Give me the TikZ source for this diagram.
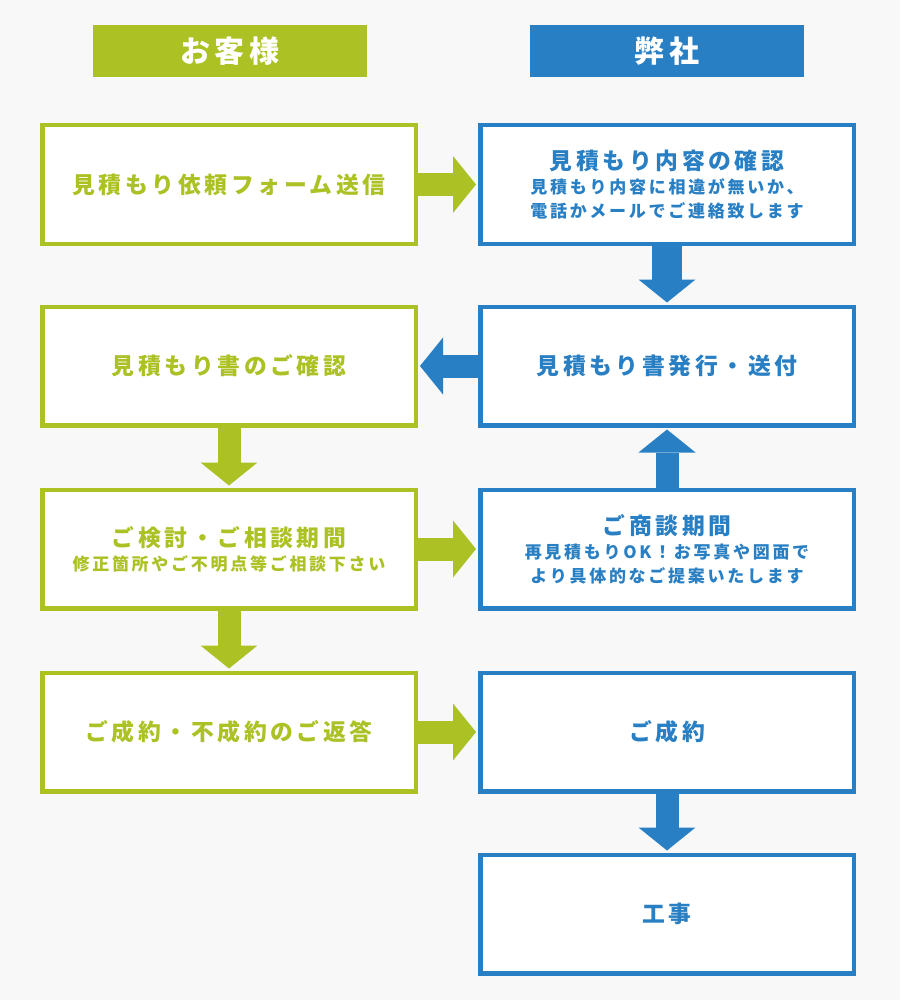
\documentclass[tikz,border=0pt]{standalone}
\usepackage{fontspec}
\newfontfamily\jpfont{Noto Sans CJK JP}[LetterSpace=16]
\usepackage{tikz}
\usetikzlibrary{positioning,arrows.meta}
\definecolor{custgreen}{RGB}{172,193,35}
\definecolor{firmblue}{RGB}{41,127,195}
\definecolor{pagegray}{RGB}{248,248,248}
\newcommand{\mainline}[1]{{\fontsize{22.8}{29}\selectfont #1}}
\tikzset{
	flow chart/.style={
		x=1pt,y=-1pt,
		font=\jpfont\bfseries\fontsize{17}{24}\selectfont
	},
	heading/.style={
		rectangle,
		fill,
		text=white,
		minimum width=274pt,
		minimum height=52pt,
		font=\jpfont\bfseries\fontsize{30}{34}\selectfont
	},
	stepbox/.style={
		rectangle,
		draw,
		fill=white,
		line width=4.5pt,
		minimum width=373.5pt,
		minimum height=118.5pt,
		inner sep=0pt,
		align=center
	},
	cust/.style={stepbox,draw=custgreen,text=custgreen},
	firm/.style={stepbox,draw=firmblue,text=firmblue},
	flow/.style={
		line width=23pt,
		shorten >=2pt,
		-{Triangle[length=23pt,width=57pt,line width=0pt]}
	}
}
\begin{document}
\begin{tikzpicture}[flow chart]
		\fill[pagegray] (0,0) rectangle (900,1000);
		\useasboundingbox (0,0) rectangle (900,1000);
		% column heads
		\node[heading,fill=custgreen] (hcust) at (230,51) {お客様};
		\node[heading,fill=firmblue] (hfirm) at (667,51) {弊社};
		% customer side
		\node[cust] (cust1) at (229,184.5) {\mainline{見積もり依頼フォーム送信}};
		\node[cust] (cust2) at (229,366) {\mainline{見積もり書のご確認}};
		\node[cust] (cust3) at (229,549) {\mainline{ご検討・ご相談期間}\\修正箇所やご不明点等ご相談下さい};
		\node[cust] (cust4) at (229,732) {\mainline{ご成約・不成約のご返答}};
		% company side
		\node[firm] (firm1) at (667,184.5) {\mainline{見積もり内容の確認}\\見積もり内容に相違が無いか、\\電話かメールでご連絡致します};
		\node[firm] (firm2) at (667,366) {\mainline{見積もり書発行・送付}};
		\node[firm] (firm3) at (667,549) {\mainline{ご商談期間}\\再見積もりOK！お写真や図面で\\より具体的なご提案いたします};
		\node[firm] (firm4) at (667,732) {\mainline{ご成約}};
		\node[firm] (firm5) at (667,914) {\mainline{工事}};
		% connectors
		\draw[flow,custgreen] (cust1) -- (firm1);
		\draw[flow,firmblue,line width=30pt] (firm1) -- (firm2);
		\draw[flow,firmblue] (firm2) -- (cust2);
		\draw[flow,custgreen] (cust2) -- (cust3);
		\draw[flow,custgreen] (cust3) -- (firm3);
		\draw[flow,firmblue] (firm3) -- (firm2);
		\draw[flow,custgreen] (cust3) -- (cust4);
		\draw[flow,custgreen] (cust4) -- (firm4);
		\draw[flow,firmblue] (firm4) -- (firm5);
	\end{tikzpicture}
\end{document}
